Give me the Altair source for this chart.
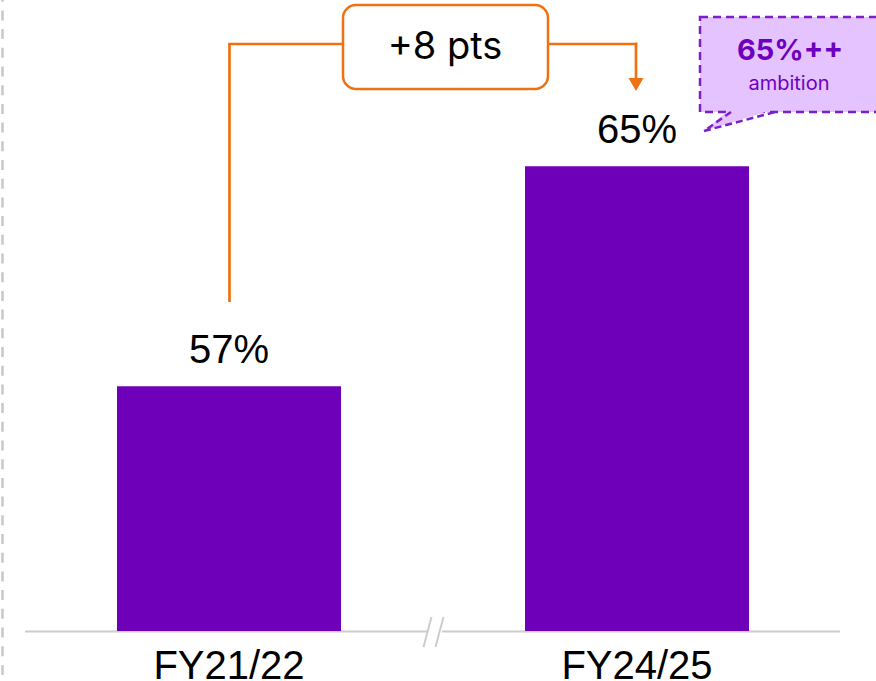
import altair as alt
import pandas as pd

# ---- data ----
categories = ["FY21/22", "FY24/25"]
values = [57, 65]
labels = ["57%", "65%"]
change_label = "+8 pts"
ambition_title = "65%++"
ambition_sub = "ambition"
y_base = 48.1

df = pd.DataFrame({"period": categories, "value": values, "label": labels})
one = pd.DataFrame({"k": [0]})

PURPLE = "#6F00BA"
ORANGE = "#EE7112"
GRAY = "#CCCCCC"
LAV = "#E5C3FF"
DPURPLE = "#7A1FCC"
TPURPLE = "#6C00BE"

x = alt.X(
    "period:N",
    sort=categories,
    scale=alt.Scale(range=[117, 749], paddingInner=0.451, paddingOuter=0),
    axis=alt.Axis(title=None, domain=False, ticks=False, labelAngle=0,
                  labelFontSize=40, labelFont="Liberation Sans", labelColor="#000000",
                  labelPadding=47, labelBaseline="alphabetic", grid=False, zindex=2),
)
y = alt.Y("value:Q", scale=alt.Scale(domain=[y_base, 71.05], zero=False, nice=False), axis=None)

bars = alt.Chart(df).mark_bar(color=PURPLE).encode(x=x, y=y, y2=alt.datum(y_base))
vlabels = alt.Chart(df).mark_text(fontSize=40, font="Liberation Sans", color="#000000",
                                  baseline="alphabetic", dy=-23).encode(x=x, y=y, text="label:N")


def rule(x1, y1, x2, y2, color, width, dash=None, offset=None):
    kw = dict(color=color, strokeWidth=width)
    if dash:
        kw["strokeDash"] = dash
    if offset is not None:
        kw["strokeDashOffset"] = offset
    return alt.Chart(one).mark_rule(**kw).encode(
        x=alt.value(x1), y=alt.value(y1), x2=alt.value(x2), y2=alt.value(y2))


# left dashed divider
left_div = rule(2.5, 0, 2.5, 681, "#C8C8C8", 2.5, dash=[10, 8.7], offset=8.3)

# baseline with axis break
base_l = rule(25, 631.5, 427, 631.5, GRAY, 2)
base_r = rule(442, 631.5, 840, 631.5, GRAY, 2)
slash1 = rule(423.5, 647, 431.5, 617, GRAY, 2)
slash2 = rule(435.5, 647, 443.5, 617, GRAY, 2)

# orange connector
c_v1 = rule(229.5, 302, 229.5, 44, ORANGE, 2.7)
c_h1 = rule(228.2, 44, 343, 44, ORANGE, 2.7)
c_h2 = rule(548, 44, 637.3, 44, ORANGE, 2.7)
c_v2 = rule(636, 42.7, 636, 80, ORANGE, 2.7)
arrow = alt.Chart(one).mark_point(shape="triangle-down", size=225, filled=True, fill=ORANGE,
                                  strokeWidth=0, opacity=1).encode(x=alt.value(636), y=alt.value(84.5))
c_box = alt.Chart(one).mark_rect(fill="white", stroke=ORANGE, strokeWidth=2.5, cornerRadius=13).encode(
    x=alt.value(343), x2=alt.value(548), y=alt.value(5), y2=alt.value(89))
c_text = alt.Chart(one).mark_text(text=change_label, font="Inter", fontSize=38, color="#000000",
                                  baseline="alphabetic", align="center").encode(
    x=alt.value(445), y=alt.value(59))

# ambition callout
a_box = alt.Chart(one).mark_rect(fill=LAV, stroke=DPURPLE, strokeWidth=2.5, strokeDash=[8, 5]).encode(
    x=alt.value(700), x2=alt.value(880), y=alt.value(17), y2=alt.value(112))
tail_path = "M -0.25 -0.3 L -0.9 0.25 L 0.875 -0.3 Z"
a_tail = alt.Chart(one).mark_point(shape=tail_path, size=6400, filled=True, fill=LAV,
                                   strokeWidth=0, opacity=1).encode(x=alt.value(740), y=alt.value(121))
t1 = rule(731, 112, 704, 131, DPURPLE, 2.5, dash=[7, 4])
t2 = rule(704, 131, 775, 112, DPURPLE, 2.5, dash=[7, 4])
a_t1 = alt.Chart(one).mark_text(text=ambition_title, font="Inter", fontSize=29, fontWeight="bold",
                                color=TPURPLE, baseline="alphabetic", align="center").encode(
    x=alt.value(790), y=alt.value(60))
a_t2 = alt.Chart(one).mark_text(text=ambition_sub, font="Inter", fontSize=20,
                                color=TPURPLE, baseline="alphabetic", align="center").encode(
    x=alt.value(789), y=alt.value(90))

chart = alt.layer(
    left_div, base_l, base_r, slash1, slash2,
    bars, vlabels,
    c_v1, c_h1, c_h2, c_v2, arrow, c_box, c_text,
    a_box, a_tail, t1, t2, a_t1, a_t2,
).properties(
    width=876, height=631,
    padding={"left": 0, "top": 0, "right": 0, "bottom": 50},
    autosize=alt.AutoSizeParams(type="none"),
    background="white",
).configure_view(stroke=None)

chart.save("out.html", embed_options={"renderer": "svg", "actions": False})
